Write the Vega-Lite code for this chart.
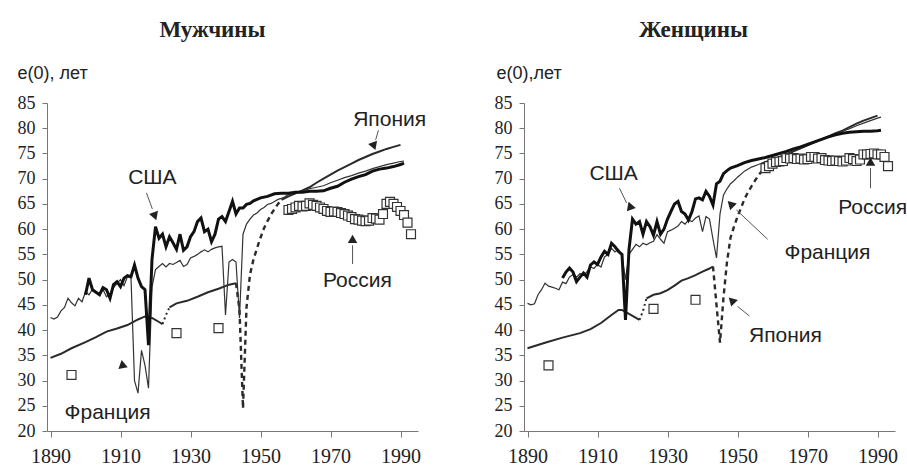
{
"$schema":"https://vega.github.io/schema/vega-lite/v6.json",
"background":"white",
"padding":{"left":17,"top":19,"right":0,"bottom":0},
"bounds":"flush",
"spacing":106,
"datasets":{
"lines":[
{"p":"m","s":"FR","g":1,"x":1890,"v":42.5},{"p":"m","s":"FR","g":1,"x":1891,"v":42.2},{"p":"m","s":"FR","g":1,"x":1892,"v":42.6},{"p":"m","s":"FR","g":1,"x":1893,"v":43.8},{"p":"m","s":"FR","g":1,"x":1894,"v":44.5},{"p":"m","s":"FR","g":1,"x":1895,"v":46.3},{"p":"m","s":"FR","g":1,"x":1896,"v":45.4},{"p":"m","s":"FR","g":1,"x":1897,"v":44.8},{"p":"m","s":"FR","g":1,"x":1898,"v":46.3},{"p":"m","s":"FR","g":1,"x":1899,"v":45.6},{"p":"m","s":"FR","g":1,"x":1900,"v":47.6},{"p":"m","s":"FR","g":1,"x":1901,"v":47.0},{"p":"m","s":"FR","g":1,"x":1902,"v":48.1},{"p":"m","s":"FR","g":1,"x":1903,"v":47.4},{"p":"m","s":"FR","g":1,"x":1904,"v":47.0},{"p":"m","s":"FR","g":1,"x":1905,"v":48.0},{"p":"m","s":"FR","g":1,"x":1906,"v":46.6},{"p":"m","s":"FR","g":1,"x":1907,"v":47.2},{"p":"m","s":"FR","g":1,"x":1908,"v":48.4},{"p":"m","s":"FR","g":1,"x":1909,"v":49.2},{"p":"m","s":"FR","g":1,"x":1910,"v":50.0},{"p":"m","s":"FR","g":1,"x":1911,"v":48.8},{"p":"m","s":"FR","g":1,"x":1912,"v":50.6},{"p":"m","s":"FR","g":1,"x":1913,"v":50.3},{"p":"m","s":"FR","g":1,"x":1914,"v":30.0},{"p":"m","s":"FR","g":1,"x":1915,"v":27.5},{"p":"m","s":"FR","g":1,"x":1916,"v":36.0},{"p":"m","s":"FR","g":1,"x":1917,"v":33.0},{"p":"m","s":"FR","g":1,"x":1918,"v":28.5},{"p":"m","s":"FR","g":1,"x":1919,"v":48.5},{"p":"m","s":"FR","g":1,"x":1920,"v":52.0},{"p":"m","s":"FR","g":1,"x":1921,"v":52.6},{"p":"m","s":"FR","g":1,"x":1922,"v":53.2},{"p":"m","s":"FR","g":1,"x":1923,"v":52.5},{"p":"m","s":"FR","g":1,"x":1924,"v":53.2},{"p":"m","s":"FR","g":1,"x":1925,"v":53.0},{"p":"m","s":"FR","g":1,"x":1926,"v":53.4},{"p":"m","s":"FR","g":1,"x":1927,"v":53.8},{"p":"m","s":"FR","g":1,"x":1928,"v":52.6},{"p":"m","s":"FR","g":1,"x":1929,"v":53.0},{"p":"m","s":"FR","g":1,"x":1930,"v":54.3},{"p":"m","s":"FR","g":1,"x":1931,"v":54.6},{"p":"m","s":"FR","g":1,"x":1932,"v":55.0},{"p":"m","s":"FR","g":1,"x":1933,"v":55.5},{"p":"m","s":"FR","g":1,"x":1934,"v":55.9},{"p":"m","s":"FR","g":1,"x":1935,"v":55.5},{"p":"m","s":"FR","g":1,"x":1936,"v":56.0},{"p":"m","s":"FR","g":1,"x":1937,"v":56.3},{"p":"m","s":"FR","g":1,"x":1938,"v":56.5},{"p":"m","s":"FR","g":1,"x":1939,"v":56.6},{"p":"m","s":"FR","g":1,"x":1940,"v":43.0},{"p":"m","s":"FR","g":1,"x":1941,"v":53.5},{"p":"m","s":"FR","g":1,"x":1942,"v":54.0},{"p":"m","s":"FR","g":1,"x":1943,"v":53.5},{"p":"m","s":"FR","g":1,"x":1944,"v":42.4},{"p":"m","s":"FR","g":1,"x":1945,"v":59.0},{"p":"m","s":"FR","g":1,"x":1946,"v":61.0},{"p":"m","s":"FR","g":1,"x":1947,"v":62.0},{"p":"m","s":"FR","g":1,"x":1948,"v":62.8},{"p":"m","s":"FR","g":1,"x":1949,"v":63.2},{"p":"m","s":"FR","g":1,"x":1950,"v":63.9},{"p":"m","s":"FR","g":1,"x":1951,"v":64.3},{"p":"m","s":"FR","g":1,"x":1952,"v":64.9},{"p":"m","s":"FR","g":1,"x":1953,"v":65.1},{"p":"m","s":"FR","g":1,"x":1954,"v":65.5},{"p":"m","s":"FR","g":1,"x":1955,"v":65.9},{"p":"m","s":"FR","g":1,"x":1956,"v":66.1},{"p":"m","s":"FR","g":1,"x":1957,"v":66.4},{"p":"m","s":"FR","g":1,"x":1958,"v":66.9},{"p":"m","s":"FR","g":1,"x":1959,"v":67.0},{"p":"m","s":"FR","g":1,"x":1960,"v":67.3},{"p":"m","s":"FR","g":1,"x":1962,"v":67.6},{"p":"m","s":"FR","g":1,"x":1964,"v":68.0},{"p":"m","s":"FR","g":1,"x":1966,"v":68.3},{"p":"m","s":"FR","g":1,"x":1968,"v":68.6},{"p":"m","s":"FR","g":1,"x":1970,"v":69.2},{"p":"m","s":"FR","g":1,"x":1972,"v":69.7},{"p":"m","s":"FR","g":1,"x":1974,"v":70.2},{"p":"m","s":"FR","g":1,"x":1976,"v":70.6},{"p":"m","s":"FR","g":1,"x":1978,"v":71.1},{"p":"m","s":"FR","g":1,"x":1980,"v":71.5},{"p":"m","s":"FR","g":1,"x":1982,"v":72.0},{"p":"m","s":"FR","g":1,"x":1984,"v":72.4},{"p":"m","s":"FR","g":1,"x":1986,"v":72.8},{"p":"m","s":"FR","g":1,"x":1988,"v":73.1},{"p":"m","s":"FR","g":1,"x":1990,"v":73.4},{"p":"m","s":"FR","g":1,"x":1991,"v":73.5},
{"p":"m","s":"US","g":1,"x":1900,"v":47.0},{"p":"m","s":"US","g":1,"x":1901,"v":50.3},{"p":"m","s":"US","g":1,"x":1902,"v":48.0},{"p":"m","s":"US","g":1,"x":1903,"v":47.5},{"p":"m","s":"US","g":1,"x":1904,"v":47.0},{"p":"m","s":"US","g":1,"x":1905,"v":48.4},{"p":"m","s":"US","g":1,"x":1906,"v":48.0},{"p":"m","s":"US","g":1,"x":1907,"v":46.3},{"p":"m","s":"US","g":1,"x":1908,"v":49.0},{"p":"m","s":"US","g":1,"x":1909,"v":49.6},{"p":"m","s":"US","g":1,"x":1910,"v":48.6},{"p":"m","s":"US","g":1,"x":1911,"v":50.3},{"p":"m","s":"US","g":1,"x":1912,"v":50.8},{"p":"m","s":"US","g":1,"x":1913,"v":50.6},{"p":"m","s":"US","g":1,"x":1914,"v":52.9},{"p":"m","s":"US","g":1,"x":1915,"v":50.3},{"p":"m","s":"US","g":1,"x":1916,"v":48.6},{"p":"m","s":"US","g":1,"x":1917,"v":48.0},{"p":"m","s":"US","g":1,"x":1918,"v":37.0},{"p":"m","s":"US","g":1,"x":1919,"v":54.0},{"p":"m","s":"US","g":1,"x":1920,"v":60.5},{"p":"m","s":"US","g":1,"x":1921,"v":58.2},{"p":"m","s":"US","g":1,"x":1922,"v":59.0},{"p":"m","s":"US","g":1,"x":1923,"v":56.5},{"p":"m","s":"US","g":1,"x":1924,"v":58.5},{"p":"m","s":"US","g":1,"x":1925,"v":57.3},{"p":"m","s":"US","g":1,"x":1926,"v":56.0},{"p":"m","s":"US","g":1,"x":1927,"v":59.0},{"p":"m","s":"US","g":1,"x":1928,"v":55.8},{"p":"m","s":"US","g":1,"x":1929,"v":56.5},{"p":"m","s":"US","g":1,"x":1930,"v":58.5},{"p":"m","s":"US","g":1,"x":1931,"v":59.5},{"p":"m","s":"US","g":1,"x":1932,"v":61.5},{"p":"m","s":"US","g":1,"x":1933,"v":62.2},{"p":"m","s":"US","g":1,"x":1934,"v":59.5},{"p":"m","s":"US","g":1,"x":1935,"v":60.0},{"p":"m","s":"US","g":1,"x":1936,"v":57.5},{"p":"m","s":"US","g":1,"x":1937,"v":59.0},{"p":"m","s":"US","g":1,"x":1938,"v":62.0},{"p":"m","s":"US","g":1,"x":1939,"v":62.5},{"p":"m","s":"US","g":1,"x":1940,"v":61.5},{"p":"m","s":"US","g":1,"x":1941,"v":63.5},{"p":"m","s":"US","g":1,"x":1942,"v":65.5},{"p":"m","s":"US","g":1,"x":1943,"v":63.0},{"p":"m","s":"US","g":1,"x":1944,"v":64.2},{"p":"m","s":"US","g":1,"x":1945,"v":64.2},{"p":"m","s":"US","g":1,"x":1946,"v":64.9},{"p":"m","s":"US","g":1,"x":1947,"v":65.1},{"p":"m","s":"US","g":1,"x":1948,"v":65.6},{"p":"m","s":"US","g":1,"x":1949,"v":65.9},{"p":"m","s":"US","g":1,"x":1950,"v":66.2},{"p":"m","s":"US","g":1,"x":1952,"v":66.5},{"p":"m","s":"US","g":1,"x":1954,"v":67.0},{"p":"m","s":"US","g":1,"x":1956,"v":67.1},{"p":"m","s":"US","g":1,"x":1958,"v":67.1},{"p":"m","s":"US","g":1,"x":1960,"v":67.3},{"p":"m","s":"US","g":1,"x":1962,"v":67.3},{"p":"m","s":"US","g":1,"x":1964,"v":67.5},{"p":"m","s":"US","g":1,"x":1966,"v":67.5},{"p":"m","s":"US","g":1,"x":1968,"v":67.6},{"p":"m","s":"US","g":1,"x":1970,"v":68.1},{"p":"m","s":"US","g":1,"x":1972,"v":68.5},{"p":"m","s":"US","g":1,"x":1974,"v":69.3},{"p":"m","s":"US","g":1,"x":1976,"v":69.9},{"p":"m","s":"US","g":1,"x":1978,"v":70.4},{"p":"m","s":"US","g":1,"x":1980,"v":70.8},{"p":"m","s":"US","g":1,"x":1982,"v":71.5},{"p":"m","s":"US","g":1,"x":1984,"v":71.9},{"p":"m","s":"US","g":1,"x":1986,"v":72.1},{"p":"m","s":"US","g":1,"x":1988,"v":72.4},{"p":"m","s":"US","g":1,"x":1990,"v":72.8},{"p":"m","s":"US","g":1,"x":1991,"v":73.1},
{"p":"m","s":"JP","g":1,"x":1890,"v":34.5},{"p":"m","s":"JP","g":1,"x":1893,"v":35.3},{"p":"m","s":"JP","g":1,"x":1896,"v":36.4},{"p":"m","s":"JP","g":1,"x":1900,"v":37.6},{"p":"m","s":"JP","g":1,"x":1903,"v":38.6},{"p":"m","s":"JP","g":1,"x":1906,"v":39.7},{"p":"m","s":"JP","g":1,"x":1909,"v":40.3},{"p":"m","s":"JP","g":1,"x":1912,"v":41.0},{"p":"m","s":"JP","g":1,"x":1915,"v":42.1},{"p":"m","s":"JP","g":1,"x":1917,"v":42.7},{"p":"m","s":"JP","g":1,"x":1919,"v":42.4},{"p":"m","s":"JP","g":1,"x":1921,"v":41.6},{"p":"m","s":"JP","g":1,"x":1922,"v":41.2},
{"p":"m","s":"JP","g":2,"x":1922,"v":41.2},{"p":"m","s":"JP","g":2,"x":1923,"v":43.0},{"p":"m","s":"JP","g":2,"x":1924,"v":44.5},
{"p":"m","s":"JP","g":3,"x":1924,"v":44.5},{"p":"m","s":"JP","g":3,"x":1926,"v":45.3},{"p":"m","s":"JP","g":3,"x":1929,"v":45.8},{"p":"m","s":"JP","g":3,"x":1932,"v":46.6},{"p":"m","s":"JP","g":3,"x":1935,"v":47.5},{"p":"m","s":"JP","g":3,"x":1938,"v":48.2},{"p":"m","s":"JP","g":3,"x":1941,"v":49.0},{"p":"m","s":"JP","g":3,"x":1943,"v":49.3},
{"p":"m","s":"JP","g":4,"x":1943,"v":49.3},{"p":"m","s":"JP","g":4,"x":1944,"v":44.0},{"p":"m","s":"JP","g":4,"x":1945,"v":24.5},{"p":"m","s":"JP","g":4,"x":1946,"v":44.5},{"p":"m","s":"JP","g":4,"x":1947,"v":51.0},{"p":"m","s":"JP","g":4,"x":1948,"v":54.0},{"p":"m","s":"JP","g":4,"x":1949,"v":56.2},{"p":"m","s":"JP","g":4,"x":1950,"v":58.3},{"p":"m","s":"JP","g":4,"x":1951,"v":60.2},{"p":"m","s":"JP","g":4,"x":1952,"v":61.6},{"p":"m","s":"JP","g":4,"x":1953,"v":62.9},{"p":"m","s":"JP","g":4,"x":1954,"v":64.0},{"p":"m","s":"JP","g":4,"x":1955,"v":65.0},{"p":"m","s":"JP","g":4,"x":1956,"v":65.8},
{"p":"m","s":"JP","g":5,"x":1956,"v":65.8},{"p":"m","s":"JP","g":5,"x":1958,"v":66.5},{"p":"m","s":"JP","g":5,"x":1960,"v":67.1},{"p":"m","s":"JP","g":5,"x":1962,"v":67.7},{"p":"m","s":"JP","g":5,"x":1964,"v":68.3},{"p":"m","s":"JP","g":5,"x":1966,"v":69.2},{"p":"m","s":"JP","g":5,"x":1968,"v":70.0},{"p":"m","s":"JP","g":5,"x":1970,"v":70.8},{"p":"m","s":"JP","g":5,"x":1972,"v":71.6},{"p":"m","s":"JP","g":5,"x":1974,"v":72.3},{"p":"m","s":"JP","g":5,"x":1976,"v":73.0},{"p":"m","s":"JP","g":5,"x":1978,"v":73.7},{"p":"m","s":"JP","g":5,"x":1980,"v":74.3},{"p":"m","s":"JP","g":5,"x":1982,"v":74.9},{"p":"m","s":"JP","g":5,"x":1984,"v":75.4},{"p":"m","s":"JP","g":5,"x":1986,"v":75.9},{"p":"m","s":"JP","g":5,"x":1988,"v":76.3},{"p":"m","s":"JP","g":5,"x":1990,"v":76.7},
{"p":"w","s":"FR","g":1,"x":1890,"v":45.3},{"p":"w","s":"FR","g":1,"x":1891,"v":45.0},{"p":"w","s":"FR","g":1,"x":1892,"v":45.2},{"p":"w","s":"FR","g":1,"x":1893,"v":47.0},{"p":"w","s":"FR","g":1,"x":1894,"v":48.0},{"p":"w","s":"FR","g":1,"x":1895,"v":49.3},{"p":"w","s":"FR","g":1,"x":1896,"v":48.7},{"p":"w","s":"FR","g":1,"x":1897,"v":48.5},{"p":"w","s":"FR","g":1,"x":1898,"v":48.3},{"p":"w","s":"FR","g":1,"x":1899,"v":48.0},{"p":"w","s":"FR","g":1,"x":1900,"v":49.5},{"p":"w","s":"FR","g":1,"x":1901,"v":49.2},{"p":"w","s":"FR","g":1,"x":1902,"v":50.5},{"p":"w","s":"FR","g":1,"x":1903,"v":51.0},{"p":"w","s":"FR","g":1,"x":1904,"v":50.5},{"p":"w","s":"FR","g":1,"x":1905,"v":51.2},{"p":"w","s":"FR","g":1,"x":1906,"v":50.8},{"p":"w","s":"FR","g":1,"x":1907,"v":51.6},{"p":"w","s":"FR","g":1,"x":1908,"v":52.5},{"p":"w","s":"FR","g":1,"x":1909,"v":52.2},{"p":"w","s":"FR","g":1,"x":1910,"v":53.0},{"p":"w","s":"FR","g":1,"x":1911,"v":52.5},{"p":"w","s":"FR","g":1,"x":1912,"v":54.5},{"p":"w","s":"FR","g":1,"x":1913,"v":55.0},{"p":"w","s":"FR","g":1,"x":1914,"v":56.2},{"p":"w","s":"FR","g":1,"x":1915,"v":55.5},{"p":"w","s":"FR","g":1,"x":1916,"v":56.0},{"p":"w","s":"FR","g":1,"x":1917,"v":54.6},{"p":"w","s":"FR","g":1,"x":1918,"v":50.0},{"p":"w","s":"FR","g":1,"x":1919,"v":55.0},{"p":"w","s":"FR","g":1,"x":1920,"v":56.0},{"p":"w","s":"FR","g":1,"x":1921,"v":57.0},{"p":"w","s":"FR","g":1,"x":1922,"v":56.5},{"p":"w","s":"FR","g":1,"x":1923,"v":57.2},{"p":"w","s":"FR","g":1,"x":1924,"v":56.9},{"p":"w","s":"FR","g":1,"x":1925,"v":57.3},{"p":"w","s":"FR","g":1,"x":1926,"v":57.6},{"p":"w","s":"FR","g":1,"x":1927,"v":58.9},{"p":"w","s":"FR","g":1,"x":1928,"v":58.0},{"p":"w","s":"FR","g":1,"x":1929,"v":57.2},{"p":"w","s":"FR","g":1,"x":1930,"v":59.5},{"p":"w","s":"FR","g":1,"x":1931,"v":59.8},{"p":"w","s":"FR","g":1,"x":1932,"v":60.2},{"p":"w","s":"FR","g":1,"x":1933,"v":60.6},{"p":"w","s":"FR","g":1,"x":1934,"v":61.5},{"p":"w","s":"FR","g":1,"x":1935,"v":61.0},{"p":"w","s":"FR","g":1,"x":1936,"v":61.8},{"p":"w","s":"FR","g":1,"x":1937,"v":61.5},{"p":"w","s":"FR","g":1,"x":1938,"v":62.2},{"p":"w","s":"FR","g":1,"x":1939,"v":62.6},{"p":"w","s":"FR","g":1,"x":1940,"v":59.5},{"p":"w","s":"FR","g":1,"x":1941,"v":62.5},{"p":"w","s":"FR","g":1,"x":1942,"v":62.0},{"p":"w","s":"FR","g":1,"x":1943,"v":58.0},{"p":"w","s":"FR","g":1,"x":1944,"v":54.3},{"p":"w","s":"FR","g":1,"x":1945,"v":63.0},{"p":"w","s":"FR","g":1,"x":1946,"v":66.8},{"p":"w","s":"FR","g":1,"x":1947,"v":68.0},{"p":"w","s":"FR","g":1,"x":1948,"v":69.0},{"p":"w","s":"FR","g":1,"x":1949,"v":69.6},{"p":"w","s":"FR","g":1,"x":1950,"v":70.3},{"p":"w","s":"FR","g":1,"x":1952,"v":71.5},{"p":"w","s":"FR","g":1,"x":1954,"v":72.3},{"p":"w","s":"FR","g":1,"x":1956,"v":72.8},{"p":"w","s":"FR","g":1,"x":1958,"v":73.4},{"p":"w","s":"FR","g":1,"x":1960,"v":73.9},{"p":"w","s":"FR","g":1,"x":1962,"v":74.4},{"p":"w","s":"FR","g":1,"x":1964,"v":75.0},{"p":"w","s":"FR","g":1,"x":1966,"v":75.5},{"p":"w","s":"FR","g":1,"x":1968,"v":76.0},{"p":"w","s":"FR","g":1,"x":1970,"v":76.6},{"p":"w","s":"FR","g":1,"x":1972,"v":77.2},{"p":"w","s":"FR","g":1,"x":1974,"v":77.8},{"p":"w","s":"FR","g":1,"x":1976,"v":78.4},{"p":"w","s":"FR","g":1,"x":1978,"v":78.9},{"p":"w","s":"FR","g":1,"x":1980,"v":79.4},{"p":"w","s":"FR","g":1,"x":1982,"v":79.9},{"p":"w","s":"FR","g":1,"x":1984,"v":80.5},{"p":"w","s":"FR","g":1,"x":1986,"v":81.0},{"p":"w","s":"FR","g":1,"x":1988,"v":81.5},{"p":"w","s":"FR","g":1,"x":1990,"v":82.0},{"p":"w","s":"FR","g":1,"x":1991,"v":82.2},
{"p":"w","s":"US","g":1,"x":1900,"v":50.3},{"p":"w","s":"US","g":1,"x":1901,"v":51.5},{"p":"w","s":"US","g":1,"x":1902,"v":52.3},{"p":"w","s":"US","g":1,"x":1903,"v":51.5},{"p":"w","s":"US","g":1,"x":1904,"v":49.6},{"p":"w","s":"US","g":1,"x":1905,"v":50.5},{"p":"w","s":"US","g":1,"x":1906,"v":51.3},{"p":"w","s":"US","g":1,"x":1907,"v":50.5},{"p":"w","s":"US","g":1,"x":1908,"v":52.9},{"p":"w","s":"US","g":1,"x":1909,"v":53.5},{"p":"w","s":"US","g":1,"x":1910,"v":53.0},{"p":"w","s":"US","g":1,"x":1911,"v":54.5},{"p":"w","s":"US","g":1,"x":1912,"v":55.6},{"p":"w","s":"US","g":1,"x":1913,"v":55.0},{"p":"w","s":"US","g":1,"x":1914,"v":57.2},{"p":"w","s":"US","g":1,"x":1915,"v":56.5},{"p":"w","s":"US","g":1,"x":1916,"v":55.6},{"p":"w","s":"US","g":1,"x":1917,"v":55.0},{"p":"w","s":"US","g":1,"x":1918,"v":42.0},{"p":"w","s":"US","g":1,"x":1919,"v":56.0},{"p":"w","s":"US","g":1,"x":1920,"v":62.0},{"p":"w","s":"US","g":1,"x":1921,"v":61.0},{"p":"w","s":"US","g":1,"x":1922,"v":61.5},{"p":"w","s":"US","g":1,"x":1923,"v":59.0},{"p":"w","s":"US","g":1,"x":1924,"v":61.5},{"p":"w","s":"US","g":1,"x":1925,"v":60.5},{"p":"w","s":"US","g":1,"x":1926,"v":58.8},{"p":"w","s":"US","g":1,"x":1927,"v":61.5},{"p":"w","s":"US","g":1,"x":1928,"v":59.0},{"p":"w","s":"US","g":1,"x":1929,"v":60.0},{"p":"w","s":"US","g":1,"x":1930,"v":62.0},{"p":"w","s":"US","g":1,"x":1931,"v":63.5},{"p":"w","s":"US","g":1,"x":1932,"v":65.0},{"p":"w","s":"US","g":1,"x":1933,"v":65.5},{"p":"w","s":"US","g":1,"x":1934,"v":63.5},{"p":"w","s":"US","g":1,"x":1935,"v":63.0},{"p":"w","s":"US","g":1,"x":1936,"v":61.8},{"p":"w","s":"US","g":1,"x":1937,"v":63.5},{"p":"w","s":"US","g":1,"x":1938,"v":66.0},{"p":"w","s":"US","g":1,"x":1939,"v":66.2},{"p":"w","s":"US","g":1,"x":1940,"v":65.8},{"p":"w","s":"US","g":1,"x":1941,"v":67.5},{"p":"w","s":"US","g":1,"x":1942,"v":66.5},{"p":"w","s":"US","g":1,"x":1943,"v":64.8},{"p":"w","s":"US","g":1,"x":1944,"v":69.0},{"p":"w","s":"US","g":1,"x":1945,"v":69.5},{"p":"w","s":"US","g":1,"x":1946,"v":71.0},{"p":"w","s":"US","g":1,"x":1947,"v":71.6},{"p":"w","s":"US","g":1,"x":1948,"v":72.1},{"p":"w","s":"US","g":1,"x":1950,"v":72.6},{"p":"w","s":"US","g":1,"x":1952,"v":73.2},{"p":"w","s":"US","g":1,"x":1954,"v":73.6},{"p":"w","s":"US","g":1,"x":1956,"v":73.9},{"p":"w","s":"US","g":1,"x":1958,"v":74.2},{"p":"w","s":"US","g":1,"x":1960,"v":74.6},{"p":"w","s":"US","g":1,"x":1962,"v":75.0},{"p":"w","s":"US","g":1,"x":1964,"v":75.4},{"p":"w","s":"US","g":1,"x":1966,"v":75.9},{"p":"w","s":"US","g":1,"x":1968,"v":76.3},{"p":"w","s":"US","g":1,"x":1970,"v":76.8},{"p":"w","s":"US","g":1,"x":1972,"v":77.3},{"p":"w","s":"US","g":1,"x":1974,"v":77.8},{"p":"w","s":"US","g":1,"x":1976,"v":78.3},{"p":"w","s":"US","g":1,"x":1978,"v":78.7},{"p":"w","s":"US","g":1,"x":1980,"v":79.0},{"p":"w","s":"US","g":1,"x":1982,"v":79.2},{"p":"w","s":"US","g":1,"x":1984,"v":79.3},{"p":"w","s":"US","g":1,"x":1986,"v":79.4},{"p":"w","s":"US","g":1,"x":1988,"v":79.4},{"p":"w","s":"US","g":1,"x":1990,"v":79.5},{"p":"w","s":"US","g":1,"x":1991,"v":79.6},
{"p":"w","s":"JP","g":1,"x":1890,"v":36.4},{"p":"w","s":"JP","g":1,"x":1895,"v":37.5},{"p":"w","s":"JP","g":1,"x":1900,"v":38.5},{"p":"w","s":"JP","g":1,"x":1905,"v":39.4},{"p":"w","s":"JP","g":1,"x":1908,"v":40.2},{"p":"w","s":"JP","g":1,"x":1911,"v":41.4},{"p":"w","s":"JP","g":1,"x":1914,"v":43.0},{"p":"w","s":"JP","g":1,"x":1916,"v":44.0},{"p":"w","s":"JP","g":1,"x":1917,"v":44.0},{"p":"w","s":"JP","g":1,"x":1918,"v":43.6},{"p":"w","s":"JP","g":1,"x":1919,"v":43.2},{"p":"w","s":"JP","g":1,"x":1920,"v":42.8},{"p":"w","s":"JP","g":1,"x":1921,"v":42.4},{"p":"w","s":"JP","g":1,"x":1922,"v":42.0},
{"p":"w","s":"JP","g":2,"x":1922,"v":42.0},{"p":"w","s":"JP","g":2,"x":1923,"v":43.8},{"p":"w","s":"JP","g":2,"x":1924,"v":46.3},
{"p":"w","s":"JP","g":3,"x":1924,"v":46.3},{"p":"w","s":"JP","g":3,"x":1926,"v":47.0},{"p":"w","s":"JP","g":3,"x":1928,"v":47.3},{"p":"w","s":"JP","g":3,"x":1930,"v":47.9},{"p":"w","s":"JP","g":3,"x":1932,"v":48.8},{"p":"w","s":"JP","g":3,"x":1934,"v":49.8},{"p":"w","s":"JP","g":3,"x":1936,"v":50.3},{"p":"w","s":"JP","g":3,"x":1938,"v":50.9},{"p":"w","s":"JP","g":3,"x":1940,"v":51.6},{"p":"w","s":"JP","g":3,"x":1942,"v":52.2},{"p":"w","s":"JP","g":3,"x":1943,"v":52.6},
{"p":"w","s":"JP","g":4,"x":1943,"v":52.6},{"p":"w","s":"JP","g":4,"x":1944,"v":45.0},{"p":"w","s":"JP","g":4,"x":1945,"v":37.5},{"p":"w","s":"JP","g":4,"x":1946,"v":46.5},{"p":"w","s":"JP","g":4,"x":1947,"v":53.5},{"p":"w","s":"JP","g":4,"x":1948,"v":58.3},{"p":"w","s":"JP","g":4,"x":1949,"v":60.5},{"p":"w","s":"JP","g":4,"x":1950,"v":62.5},{"p":"w","s":"JP","g":4,"x":1951,"v":64.2},{"p":"w","s":"JP","g":4,"x":1952,"v":66.0},{"p":"w","s":"JP","g":4,"x":1953,"v":67.3},{"p":"w","s":"JP","g":4,"x":1954,"v":68.5},{"p":"w","s":"JP","g":4,"x":1955,"v":69.6},{"p":"w","s":"JP","g":4,"x":1956,"v":70.7},{"p":"w","s":"JP","g":4,"x":1957,"v":71.5},{"p":"w","s":"JP","g":4,"x":1958,"v":72.3},
{"p":"w","s":"JP","g":5,"x":1958,"v":72.3},{"p":"w","s":"JP","g":5,"x":1960,"v":73.3},{"p":"w","s":"JP","g":5,"x":1962,"v":74.0},{"p":"w","s":"JP","g":5,"x":1964,"v":74.7},{"p":"w","s":"JP","g":5,"x":1966,"v":75.4},{"p":"w","s":"JP","g":5,"x":1968,"v":76.0},{"p":"w","s":"JP","g":5,"x":1970,"v":76.6},{"p":"w","s":"JP","g":5,"x":1972,"v":77.2},{"p":"w","s":"JP","g":5,"x":1974,"v":77.8},{"p":"w","s":"JP","g":5,"x":1976,"v":78.4},{"p":"w","s":"JP","g":5,"x":1978,"v":79.0},{"p":"w","s":"JP","g":5,"x":1980,"v":79.5},{"p":"w","s":"JP","g":5,"x":1982,"v":80.2},{"p":"w","s":"JP","g":5,"x":1984,"v":80.9},{"p":"w","s":"JP","g":5,"x":1986,"v":81.5},{"p":"w","s":"JP","g":5,"x":1988,"v":82.0},{"p":"w","s":"JP","g":5,"x":1990,"v":82.5}
],
"russia":[
{"p":"m","x":1896,"v":31.1},{"p":"m","x":1926,"v":39.4},{"p":"m","x":1938,"v":40.4},{"p":"m","x":1958,"v":63.8},{"p":"m","x":1959,"v":64.0},{"p":"m","x":1960,"v":64.3},{"p":"m","x":1961,"v":64.6},{"p":"m","x":1962,"v":64.5},{"p":"m","x":1963,"v":64.6},{"p":"m","x":1964,"v":65.1},{"p":"m","x":1965,"v":64.8},{"p":"m","x":1966,"v":64.6},{"p":"m","x":1967,"v":64.3},{"p":"m","x":1968,"v":64.0},{"p":"m","x":1969,"v":63.6},{"p":"m","x":1970,"v":63.4},{"p":"m","x":1971,"v":63.5},{"p":"m","x":1972,"v":63.4},{"p":"m","x":1973,"v":63.2},{"p":"m","x":1974,"v":63.0},{"p":"m","x":1975,"v":62.7},{"p":"m","x":1976,"v":62.4},{"p":"m","x":1977,"v":62.0},{"p":"m","x":1978,"v":61.9},{"p":"m","x":1979,"v":61.7},{"p":"m","x":1980,"v":61.6},{"p":"m","x":1981,"v":61.7},{"p":"m","x":1982,"v":62.2},{"p":"m","x":1983,"v":62.1},{"p":"m","x":1984,"v":61.9},{"p":"m","x":1985,"v":63.0},{"p":"m","x":1986,"v":65.0},{"p":"m","x":1987,"v":65.4},{"p":"m","x":1988,"v":65.0},{"p":"m","x":1989,"v":64.4},{"p":"m","x":1990,"v":63.6},{"p":"m","x":1991,"v":62.8},{"p":"m","x":1992,"v":61.3},{"p":"m","x":1993,"v":59.0},
{"p":"w","x":1896,"v":33.0},{"p":"w","x":1926,"v":44.2},{"p":"w","x":1938,"v":46.0},{"p":"w","x":1958,"v":72.1},{"p":"w","x":1959,"v":72.5},{"p":"w","x":1960,"v":73.0},{"p":"w","x":1961,"v":73.3},{"p":"w","x":1962,"v":73.4},{"p":"w","x":1963,"v":73.5},{"p":"w","x":1964,"v":74.1},{"p":"w","x":1965,"v":74.0},{"p":"w","x":1966,"v":74.1},{"p":"w","x":1967,"v":73.9},{"p":"w","x":1968,"v":74.0},{"p":"w","x":1969,"v":73.8},{"p":"w","x":1970,"v":73.9},{"p":"w","x":1971,"v":74.3},{"p":"w","x":1972,"v":74.3},{"p":"w","x":1973,"v":74.0},{"p":"w","x":1974,"v":74.1},{"p":"w","x":1975,"v":73.7},{"p":"w","x":1976,"v":73.6},{"p":"w","x":1977,"v":73.5},{"p":"w","x":1978,"v":73.6},{"p":"w","x":1979,"v":73.5},{"p":"w","x":1980,"v":73.4},{"p":"w","x":1981,"v":73.6},{"p":"w","x":1982,"v":74.1},{"p":"w","x":1983,"v":73.9},{"p":"w","x":1984,"v":73.5},{"p":"w","x":1985,"v":73.8},{"p":"w","x":1986,"v":74.8},{"p":"w","x":1987,"v":74.8},{"p":"w","x":1988,"v":74.9},{"p":"w","x":1989,"v":75.0},{"p":"w","x":1990,"v":74.8},{"p":"w","x":1991,"v":74.8},{"p":"w","x":1992,"v":74.3},{"p":"w","x":1993,"v":72.5}
],
"labels":[
{"p":"m","t":"США","x":1919.1,"v":70.1},{"p":"m","t":"Япония","x":1986.9,"v":81.6},{"p":"m","t":"Франция","x":1906.3,"v":23.5},{"p":"m","t":"Россия","x":1977.7,"v":49.7},
{"p":"w","t":"США","x":1914.6,"v":70.9},{"p":"w","t":"Франция","x":1975.7,"v":55.3},{"p":"w","t":"Россия","x":1988.6,"v":64.2},{"p":"w","t":"Япония","x":1963.7,"v":38.8}
],
"leaders":[
{"p":"m","x":1917.4,"v":67.2,"x2":1919.1,"v2":64.0},{"p":"m","x":1983.7,"v":79.6,"x2":1982.9,"v2":77.7},{"p":"m","x":1976.3,"v":56.8,"x2":1976.3,"v2":53.1},
{"p":"w","x":1916.3,"v":68.1,"x2":1918.3,"v2":65.2},{"p":"w","x":1949.7,"v":63.8,"x2":1958.6,"v2":58.0},{"p":"w","x":1988,"v":72.1,"x2":1988,"v2":68.1},{"p":"w","x":1950,"v":44.7,"x2":1953.4,"v2":42.8}
],
"heads":[
{"p":"m","d":"down","x":1919.7,"v":62.8},{"p":"m","d":"down","x":1982.3,"v":76.7},{"p":"m","d":"right","x":1910.6,"v":33.0},{"p":"m","d":"up","x":1976.3,"v":57.8},
{"p":"w","d":"right","x":1919.4,"v":64.4},{"p":"w","d":"upleft","x":1948.3,"v":64.8},{"p":"w","d":"up","x":1988,"v":73.1},{"p":"w","d":"upleft","x":1948.6,"v":45.7}
]
},
"hconcat":[
{
"width":371,"height":328,
"title":{"text":"Мужчины","font":"Liberation Serif","fontSize":23,"fontWeight":"bold","color":"#222","anchor":"middle","dx":-20,"offset":22},
"encoding":{
"x":{"field":"x","type":"quantitative","scale":{"domain":[1889,1995],"nice":false,"zero":false},"axis":{"values":[1890,1910,1930,1950,1970,1990],"title":null,"format":"d"}},
"y":{"field":"v","type":"quantitative","scale":{"domain":[20,85],"nice":false,"zero":false},"axis":{"values":[20,25,30,35,40,45,50,55,60,65,70,75,80,85],"title":"e(0), лет","titleAngle":0,"titleX":-30,"titleY":-30,"titleAlign":"left","titleBaseline":"middle"}}
},
"layer":[
{"data":{"name":"lines"},"transform":[{"filter":"datum.p=='m' && datum.s=='JP' && (datum.g==1 || datum.g==3 || datum.g==5)"}],"mark":{"type":"line","strokeWidth":2,"color":"#2a2a2a"},"encoding":{"detail":{"field":"g"}}},
{"data":{"name":"lines"},"transform":[{"filter":"datum.p=='m' && datum.s=='JP' && datum.g==2"}],"mark":{"type":"line","strokeWidth":2,"color":"#2a2a2a","strokeDash":[2,3]},"encoding":{}},
{"data":{"name":"lines"},"transform":[{"filter":"datum.p=='m' && datum.s=='JP' && datum.g==4"}],"mark":{"type":"line","strokeWidth":2.4,"color":"#2a2a2a","strokeDash":[5,4]},"encoding":{}},
{"data":{"name":"lines"},"transform":[{"filter":"datum.p=='m' && datum.s=='FR'"}],"mark":{"type":"line","strokeWidth":1.2,"color":"#333"},"encoding":{}},
{"data":{"name":"lines"},"transform":[{"filter":"datum.p=='m' && datum.s=='US'"}],"mark":{"type":"line","strokeWidth":3,"color":"#111"},"encoding":{}},
{"data":{"name":"russia"},"transform":[{"filter":"datum.p=='m'"}],"mark":{"type":"point","shape":"square","size":80,"fill":"white","stroke":"#333","strokeWidth":1.2,"opacity":1,"filled":false}},
{"data":{"name":"leaders"},"transform":[{"filter":"datum.p=='m'"}],"mark":{"type":"rule","strokeWidth":1,"color":"#555"},"encoding":{"x2":{"field":"x2"},"y2":{"field":"v2"}}},
{"data":{"name":"heads"},"transform":[{"filter":"datum.p=='m' && datum.d=='down'"}],"mark":{"type":"point","shape":"triangle","size":90,"filled":true,"color":"#222","opacity":1,"angle":160}},
{"data":{"name":"heads"},"transform":[{"filter":"datum.p=='m' && datum.d=='right'"}],"mark":{"type":"point","shape":"triangle","size":90,"filled":true,"color":"#222","opacity":1,"angle":110}},
{"data":{"name":"heads"},"transform":[{"filter":"datum.p=='m' && datum.d=='up'"}],"mark":{"type":"point","shape":"triangle","size":90,"filled":true,"color":"#222","opacity":1,"angle":0}},
{"data":{"name":"labels"},"transform":[{"filter":"datum.p=='m'"}],"mark":{"type":"text","font":"Liberation Sans","fontSize":21,"color":"#222","align":"center","baseline":"middle"},"encoding":{"text":{"field":"t"}}}
]
},
{
"width":371,"height":328,
"title":{"text":"Женщины","font":"Liberation Serif","fontSize":23,"fontWeight":"bold","color":"#222","anchor":"middle","dx":-16,"offset":22},
"encoding":{
"x":{"field":"x","type":"quantitative","scale":{"domain":[1889,1995],"nice":false,"zero":false},"axis":{"values":[1890,1910,1930,1950,1970,1990],"title":null,"format":"d"}},
"y":{"field":"v","type":"quantitative","scale":{"domain":[20,85],"nice":false,"zero":false},"axis":{"values":[20,25,30,35,40,45,50,55,60,65,70,75,80,85],"title":"e(0),лет","titleAngle":0,"titleX":-28,"titleY":-30,"titleAlign":"left","titleBaseline":"middle"}}
},
"layer":[
{"data":{"name":"lines"},"transform":[{"filter":"datum.p=='w' && datum.s=='JP' && (datum.g==1 || datum.g==3 || datum.g==5)"}],"mark":{"type":"line","strokeWidth":2,"color":"#2a2a2a"},"encoding":{"detail":{"field":"g"}}},
{"data":{"name":"lines"},"transform":[{"filter":"datum.p=='w' && datum.s=='JP' && datum.g==2"}],"mark":{"type":"line","strokeWidth":2,"color":"#2a2a2a","strokeDash":[2,3]},"encoding":{}},
{"data":{"name":"lines"},"transform":[{"filter":"datum.p=='w' && datum.s=='JP' && datum.g==4"}],"mark":{"type":"line","strokeWidth":2.4,"color":"#2a2a2a","strokeDash":[5,4]},"encoding":{}},
{"data":{"name":"lines"},"transform":[{"filter":"datum.p=='w' && datum.s=='FR'"}],"mark":{"type":"line","strokeWidth":1.2,"color":"#333"},"encoding":{}},
{"data":{"name":"lines"},"transform":[{"filter":"datum.p=='w' && datum.s=='US'"}],"mark":{"type":"line","strokeWidth":3,"color":"#111"},"encoding":{}},
{"data":{"name":"russia"},"transform":[{"filter":"datum.p=='w'"}],"mark":{"type":"point","shape":"square","size":80,"fill":"white","stroke":"#333","strokeWidth":1.2,"opacity":1,"filled":false}},
{"data":{"name":"leaders"},"transform":[{"filter":"datum.p=='w'"}],"mark":{"type":"rule","strokeWidth":1,"color":"#555"},"encoding":{"x2":{"field":"x2"},"y2":{"field":"v2"}}},
{"data":{"name":"heads"},"transform":[{"filter":"datum.p=='w' && datum.d=='right'"}],"mark":{"type":"point","shape":"triangle","size":90,"filled":true,"color":"#222","opacity":1,"angle":100}},
{"data":{"name":"heads"},"transform":[{"filter":"datum.p=='w' && datum.d=='upleft'"}],"mark":{"type":"point","shape":"triangle","size":90,"filled":true,"color":"#222","opacity":1,"angle":315}},
{"data":{"name":"heads"},"transform":[{"filter":"datum.p=='w' && datum.d=='up'"}],"mark":{"type":"point","shape":"triangle","size":90,"filled":true,"color":"#222","opacity":1,"angle":0}},
{"data":{"name":"labels"},"transform":[{"filter":"datum.p=='w'"}],"mark":{"type":"text","font":"Liberation Sans","fontSize":21,"color":"#222","align":"center","baseline":"middle"},"encoding":{"text":{"field":"t"}}}
]
}
],
"config":{
"view":{"stroke":null},
"axis":{"grid":false,"domainColor":"#777","tickColor":"#777","labelColor":"#222","titleColor":"#222","labelFont":"Liberation Serif","titleFont":"Liberation Sans","titleFontWeight":"normal","titleFontSize":18},
"axisX":{"labelFontSize":20,"tickSize":6,"labelPadding":9},
"axisY":{"labelFontSize":18,"tickSize":5,"labelPadding":7}
}
}
